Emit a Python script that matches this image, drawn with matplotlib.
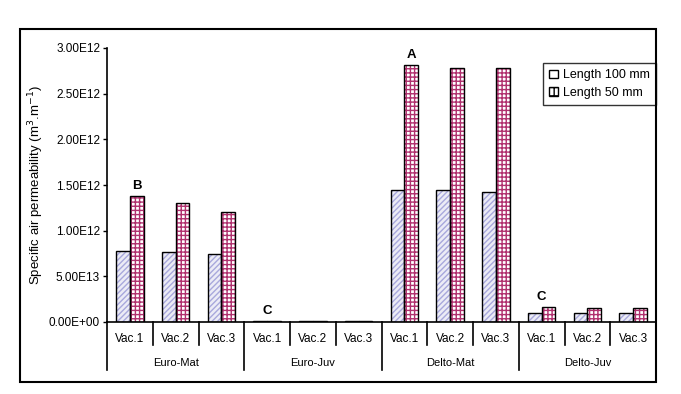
import numpy as np
import matplotlib
matplotlib.use("Agg")
import matplotlib.pyplot as plt
from matplotlib.patches import Rectangle

# ======================================
# DATA
# ======================================

groups = ["Euro-Mat", "Euro-Juv", "Delto-Mat", "Delto-Juv"]
vacs = ["Vac.1", "Vac.2", "Vac.3"]

len100 = [0.78e-12, 0.77e-12, 0.75e-12,
          0.01e-12, 0.01e-12, 0.01e-12,
          1.44e-12, 1.44e-12, 1.42e-12,
          0.10e-12, 0.10e-12, 0.10e-12]
len50 = [1.38e-12, 1.30e-12, 1.20e-12,
         0.01e-12, 0.01e-12, 0.01e-12,
         2.81e-12, 2.78e-12, 2.78e-12,
         0.16e-12, 0.15e-12, 0.15e-12]

yticks = [0, 0.5e-12, 1.0e-12, 1.5e-12, 2.0e-12, 2.5e-12, 3.0e-12]
ytick_labels = ["0.00E+00", "5.00E13", "1.00E12", "1.50E12",
                "2.00E12", "2.50E12", "3.00E12"]

# letters: (bar index, label, over which series)
letters = [(0, "B", "red"), (3, "C", "slot"), (6, "A", "red"), (9, "C", "slot")]

# ======================================
# FIGURE
# ======================================

plt.rcParams['font.family'] = ['Liberation Sans', 'DejaVu Sans']
plt.rcParams['hatch.linewidth'] = 1.0

fig = plt.figure(figsize=(6.81, 3.94), dpi=100)
W, H = 681, 394
x0, x1, y0, y1 = 107, 656, 322, 48
ax = fig.add_axes([x0 / W, 1 - y0 / H, (x1 - x0) / W, (y0 - y1) / H])

n = len(len100)
x = np.arange(n)
bw = 0.30

c_hatch1 = "#a8a8dc"
c_face1 = "#ececf6"
c_hatch2 = "#b0306e"

# series 1: light diagonal hatch
ax.bar(x - bw / 2, len100, bw, color=c_face1, edgecolor=c_hatch1,
       hatch="//////", linewidth=0, zorder=2)
ax.bar(x - bw / 2, len100, bw, fill=False, edgecolor="black",
       linewidth=1.0, zorder=3)
# series 2: magenta grid
ax.bar(x + bw / 2, len50, bw, color="white", edgecolor=c_hatch2,
       hatch="++++", linewidth=0, zorder=2)
ax.bar(x + bw / 2, len50, bw, fill=False, edgecolor="black",
       linewidth=1.0, zorder=3)

ax.set_xlim(-0.5, n - 0.5)
ax.set_ylim(0, 3.0e-12)
ax.set_yticks(yticks)
ax.set_yticklabels(ytick_labels, fontsize=8.5)
ax.set_xticks([])
ax.tick_params(axis="y", direction="out", length=3, width=1, pad=2)

for s in ["top", "right"]:
    ax.spines[s].set_visible(False)
ax.spines["left"].set_linewidth(1.2)
ax.spines["bottom"].set_linewidth(1.2)

ax.set_ylabel("Specific air permeability (m$^3$.m$^{-1}$)", fontsize=9.5, labelpad=2)

# letters above bars
for i, lab, where in letters:
    if where == "red":
        xp = i + bw / 2
        yp = len50[i]
    else:
        xp = i
        yp = max(len50[i], len100[i])
    ax.annotate(lab, (xp, yp), xytext=(0, 3), textcoords="offset points",
                ha="center", va="bottom", fontsize=9.5, fontweight="bold")

# ======================================
# CATEGORY AXIS (two levels)
# ======================================

ppy = (y0 - y1)  # pixels per axes unit in y
short = -23 / ppy
long = -48 / ppy
trans = ax.get_xaxis_transform()

ax.plot([-0.5, -0.5], [0, long], color="black", lw=1.2, transform=trans, clip_on=False)
for k in range(1, n + 1):
    bottom = long if k % 3 == 0 else short
    ax.plot([k - 0.5, k - 0.5], [0, bottom], color="black", lw=1.2,
            transform=trans, clip_on=False)
for k in range(n):
    ax.text(k, -17 / ppy, vacs[k % 3], transform=trans, ha="center",
            va="center", fontsize=8.5)
for g, name in enumerate(groups):
    ax.text(3 * g + 1, -41 / ppy, name, transform=trans, ha="center",
            va="center", fontsize=8)

# legend
leg = ax.legend(handles=[
    Rectangle((0, 0), 1, 1, facecolor="white", edgecolor="black", lw=1),
    Rectangle((0, 0), 1, 1, facecolor="white", edgecolor="black", lw=1, hatch="++")],
    labels=["Length 100 mm", "Length 50 mm"],
    loc="upper right", bbox_to_anchor=(1.0, 1 - 15 / ppy), fontsize=9,
    frameon=True, fancybox=False, edgecolor="black", handlelength=0.7,
    handleheight=0.7, handletextpad=0.4, borderpad=0.5, labelspacing=0.45,
    borderaxespad=0)
leg.get_frame().set_linewidth(1.0)

# outer frame
fig.patches.append(Rectangle((20 / W, 1 - 382 / H), (656 - 20) / W, (382 - 29) / H,
                             transform=fig.transFigure, fill=False,
                             edgecolor="black", linewidth=1.5))

fig.savefig("out.png", dpi=100, facecolor="white")
